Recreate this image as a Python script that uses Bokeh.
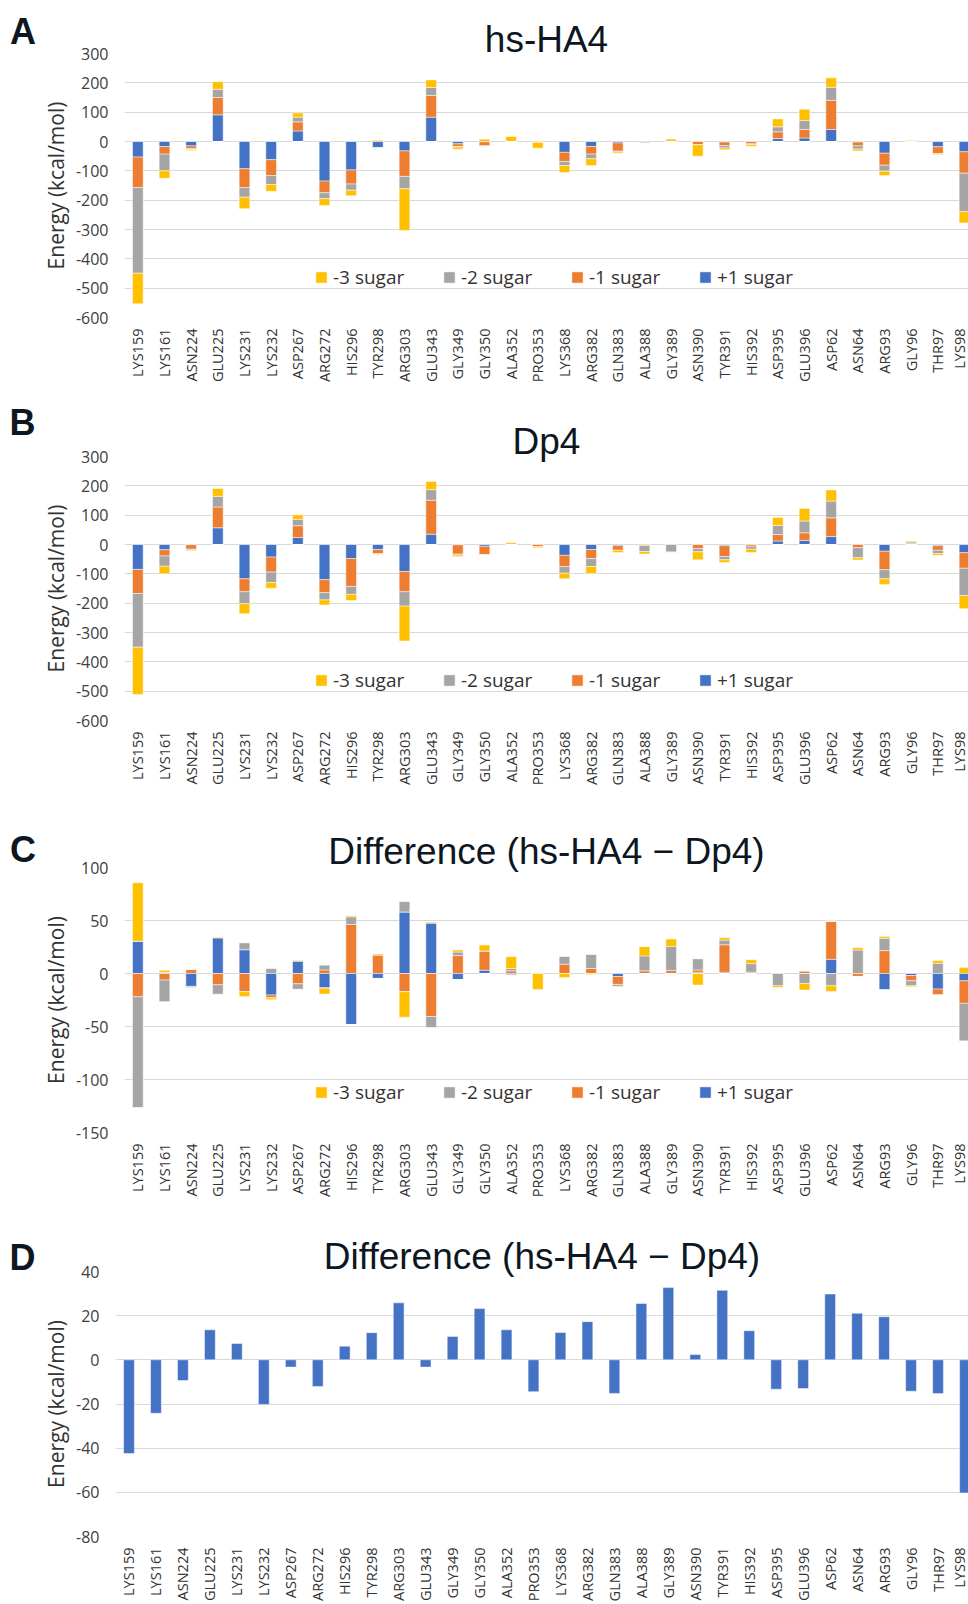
import math
from bokeh.plotting import figure
from bokeh.models import (ColumnDataSource, Range1d, FixedTicker, Legend, LegendItem, Title, Div)
from bokeh.layouts import column, row
from bokeh.embed import file_html
from bokeh.resources import INLINE

residues = ["LYS159", "LYS161", "ASN224", "GLU225", "LYS231", "LYS232", "ASP267", "ARG272",
            "HIS296", "TYR298", "ARG303", "GLU343", "GLY349", "GLY350", "ALA352", "PRO353",
            "LYS368", "ARG382", "GLN383", "ALA388", "GLY389", "ASN390", "TYR391", "HIS392",
            "ASP395", "GLU396", "ASP62", "ASN64", "ARG93", "GLY96", "THR97", "LYS98"]

series_names = ["+1 sugar", "-1 sugar", "-2 sugar", "-3 sugar"]
series_colors = ["#4472C4", "#ED7D31", "#A5A5A5", "#FFC000"]

# Panel A: hs-HA4
hs_plus1 = [-53, -17, -15, 91, -93, -62, 36, -135, -97, -22, -32, 83, -8, -1, 0, 0,
            -37, -17, -5, 0, 0, 0, -2, 0, 10, 12, 41, -2, -40, 0, -18, -35]
hs_minus1 = [-104, -26, -9, 59, -64, -54, 31, -40, -48, 0, -87, 74, -9, -14, 0, -3,
             -31, -26, -28, 0, 0, -11, -12, -8, 23, 29, 99, -13, -41, 0, -24, -73]
hs_minus2 = [-292, -57, -3, 28, -33, -31, 16, -20, -21, 0, -42, 27, -2, -1, 0, 0,
             -14, -16, -3, -5, 0, 0, -8, -2, 17, 31, 45, -11, -20, 2, 0, -131]
hs_minus3 = [-104, -25, -4, 26, -39, -23, 14, -23, -19, 4, -142, 26, -7, 8, 17, -20,
             -24, -23, -4, 0, 8, -39, -6, -6, 27, 38, 32, -6, -15, 2, -3, -39]

# Panel B: Dp4
dp_plus1 = [-85, -18, -1, 57, -117, -43, 24, -120, -48, -17, -92, 35, -1, -6, 0, 0,
            -37, -17, -4, 0, 0, 0, -4, 0, 12, 14, 27, 0, -23, 0, -4, -28]
dp_minus1 = [-82, -21, -15, 71, -44, -51, 40, -44, -95, -15, -69, 116, -32, -28, 0, -7,
             -38, -31, -16, -4, 0, -14, -37, -6, 22, 26, 64, -11, -63, 4, -16, -53]
dp_minus2 = [-183, -35, -3, 36, -41, -36, 22, -25, -27, 0, -49, 36, -3, 0, 0, 0,
             -23, -27, 0, -20, -26, -11, -11, -10, 31, 40, 57, -34, -31, 5, -11, -93]
dp_minus3 = [-161, -26, -2, 27, -34, -19, 15, -17, -21, -2, -119, 28, -5, -2, 6, -4,
             -19, -24, -7, -8, 0, -27, -9, -11, 27, 43, 38, -8, -19, 3, -6, -45]

# Panel C: difference per sugar position
df_plus1 = [30.6, 1.2, -12.2, 33.8, 22.5, -20.3, 11.9, -13.8, -48.1, -4.7, 58.1, 47.8, -5.9, 3.1, -1.6, 1.2,
            0, 0, -2.8, 0, 0, 1.2, 1.2, 0, 0, 0, 13.4, 0, -15.6, -1.9, -14.7, -6.9]
df_minus1 = [-21.9, -6.2, 4.0, -10.6, -17.2, -2.8, -9.7, 3.4, 46.3, 17.5, -17.2, -40.6, 16.9, 18.1, 2.5, 0,
             8.75, 4.7, -7.5, 2.5, 2.8, 2.2, 25.9, 1.2, 0, 2.5, 35.9, -2.8, 21.6, -5.0, -5.6, -21.25]
df_minus2 = [-104.7, -20.6, -1.3, -9.1, 6.6, 5.0, -5.3, 4.7, 7.2, 0, 10.0, -10.6, 3.4, 0, 2.2, 0,
             7.5, 13.4, -1.9, 14.1, 22.8, 10.6, 4.4, 8.1, -11.6, -9.4, -11.6, 22.2, 11.6, -4.7, 9.7, -35.6]
df_minus3 = [55.0, 1.9, 0, 0.6, -4.4, -1.6, 0.6, -5.6, 0.9, 0.9, -24.0, 0.9, 1.9, 5.6, 11.2, -15.0,
             -3.75, -0.9, -0.5, 8.75, 6.9, -10.9, 2.2, 3.75, -1.6, -6.25, -5.3, 2.2, 1.6, -0.9, 2.5, 5.6]

# Panel D: total difference
df_total = [-42.4, -24.2, -9.4, 13.6, 7.4, -20.2, -3.3, -12.1, 6.2, 12.3, 25.8, -3.3, 10.6, 23.2, 13.6, -14.4,
            12.4, 17.3, -15.2, 25.5, 32.7, 2.4, 31.5, 13.2, -13.3, -13.0, 29.8, 21.1, 19.5, -14.2, -15.3, -60.3]

TXT = "#0d1722"
TICK = "#404040"
LETTER_W = 36
CHART_W = 968 - LETTER_W


def base_fig(height, b_top, b_bottom, b_left, xend, y0, y1, yticks):
    p = figure(width=CHART_W, height=height, title=None,
               x_range=Range1d(-0.5, xend), y_range=Range1d(y0, y1),
               toolbar_location=None, output_backend="svg",
               min_border_left=b_left, min_border_right=0,
               min_border_top=b_top, min_border_bottom=b_bottom)
    p.outline_line_color = None
    p.background_fill_color = "white"
    p.border_fill_color = "white"
    p.xgrid.grid_line_color = None
    p.ygrid.ticker = FixedTicker(ticks=yticks)
    p.ygrid.grid_line_color = "#D9D9D9"
    p.ygrid.grid_line_width = 1.2
    p.yaxis.ticker = FixedTicker(ticks=yticks)
    p.yaxis.major_label_overrides = {t: str(t) for t in yticks}
    p.yaxis.axis_line_color = None
    p.yaxis.major_tick_line_color = None
    p.yaxis.minor_tick_line_color = None
    p.yaxis.major_tick_out = 0
    p.yaxis.major_tick_in = 0
    p.yaxis.major_label_standoff = 16
    p.yaxis.major_label_text_font = "Open Sans"
    p.yaxis.major_label_text_font_size = "16px"
    p.yaxis.major_label_text_color = TICK
    p.yaxis.axis_label = "Energy (kcal/mol)"
    p.yaxis.axis_label_text_font = "Open Sans"
    p.yaxis.axis_label_text_font_size = "21px"
    p.yaxis.axis_label_text_font_style = "normal"
    p.yaxis.axis_label_text_color = "#333333"
    p.yaxis.axis_label_standoff = 3
    p.xaxis.ticker = FixedTicker(ticks=list(range(len(residues))))
    p.xaxis.major_label_overrides = {i: r for i, r in enumerate(residues)}
    p.xaxis.major_label_orientation = math.pi / 2
    p.xaxis.axis_line_color = None
    p.xaxis.major_tick_line_color = None
    p.xaxis.minor_tick_line_color = None
    p.xaxis.major_tick_out = 0
    p.xaxis.major_tick_in = 0
    p.xaxis.major_label_standoff = 11
    p.xaxis.major_label_text_font = "Open Sans"
    p.xaxis.major_label_text_font_size = "14.5px"
    p.xaxis.major_label_text_color = "#333333"
    return p


def add_title(p, title, title_standoff):
    p.add_layout(Title(text=title, align="center", vertical_align="bottom",
                       standoff=title_standoff, text_font="Liberation Sans",
                       text_font_size="37px", text_font_style="normal",
                       text_color=TXT), "above")


def letter_div(letter, height, pad_top, pad_left):
    html = ('<div style="margin:0;padding:%spx 0 0 %spx;font-family:\'Liberation Sans\',Arial,sans-serif;'
            'font-weight:bold;font-size:36px;line-height:36px;color:%s;">%s</div>'
            % (pad_top, pad_left, TXT, letter))
    return Div(text=html, width=LETTER_W, height=height, margin=0)


def stacked_panel(series, height, b_top, b_bottom, y0, y1, yticks, legend_y):
    p = base_fig(height, b_top, b_bottom, 124 - LETTER_W, 31.15, y0, y1, yticks)
    data = {"x": list(range(len(residues)))}
    pos_keys, neg_keys = [], []
    for k, vals in enumerate(series):
        data["p%d" % k] = [max(v, 0) for v in vals]
        data["n%d" % k] = [min(v, 0) for v in vals]
        pos_keys.append("p%d" % k)
        neg_keys.append("n%d" % k)
    src = ColumnDataSource(data)
    rp = p.vbar_stack(pos_keys, x="x", width=0.4, color=series_colors, source=src,
                      line_color="white", line_alpha=0.6, line_width=0.8)
    p.vbar_stack(neg_keys, x="x", width=0.4, color=series_colors, source=src,
                 line_color="white", line_alpha=0.6, line_width=0.8)
    items = [LegendItem(label=series_names[k], renderers=[rp[k]]) for k in (3, 2, 1, 0)]
    leg = Legend(items=items, orientation="horizontal", location=(190, legend_y),
                 glyph_width=14, glyph_height=14, label_standoff=5, label_width=90,
                 spacing=19, padding=0, margin=0,
                 label_text_font="Open Sans", label_text_font_size="19px",
                 label_text_color="#333333",
                 background_fill_alpha=0, border_line_alpha=0)
    p.add_layout(leg)
    return p


pA = stacked_panel([hs_plus1, hs_minus1, hs_minus2, hs_minus3], 392, 53, 75,
                   -600, 300, list(range(-600, 301, 100)), 27)
add_title(pA, "hs-HA4", -12)

pB = stacked_panel([dp_plus1, dp_minus1, dp_minus2, dp_minus3], 408, 64, 80,
                   -600, 300, list(range(-600, 301, 100)), 27)
add_title(pB, "Dp4", -10)

pC = stacked_panel([df_plus1, df_minus1, df_minus2, df_minus3], 400, 67, 68,
                   -150, 100, list(range(-150, 101, 50)), 27)
add_title(pC, "Difference (hs-HA4 \u2212 Dp4)", -8)

pD = base_fig(404, 71, 67, 115 - LETTER_W, 31.13, -80, 40, list(range(-80, 41, 20)))
srcD = ColumnDataSource({"x": list(range(len(residues))), "total": df_total})
pD.vbar(x="x", top="total", bottom=0, width=0.4, source=srcD, fill_color="#4472C4",
        line_color="white", line_alpha=0.6, line_width=0.8)
add_title(pD, "Difference (hs-HA4 \u2212 Dp4)", -10)

rows = [
    row(letter_div("A", 392, 14, 10), pA, spacing=0),
    row(letter_div("B", 408, 12.5, 9.5), pB, spacing=0),
    row(letter_div("C", 400, 32, 10), pC, spacing=0),
    row(letter_div("D", 404, 39.5, 9.5), pD, spacing=0),
]
layout = column(*rows, spacing=0)
open("out.html", "w").write(file_html(layout, INLINE))
